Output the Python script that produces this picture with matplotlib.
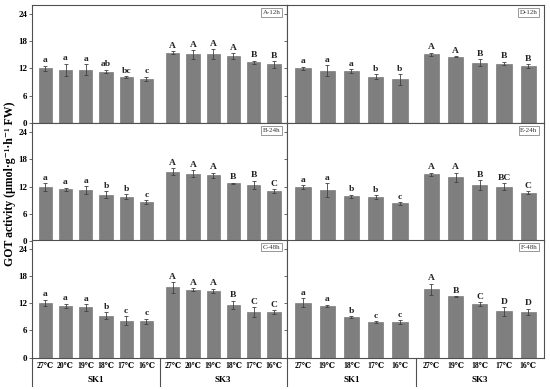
import matplotlib
matplotlib.use('Agg')
import matplotlib.pyplot as plt
import numpy as np

plt.rcParams['font.family'] = ['Liberation Serif', 'DejaVu Serif']

# Kategori suhu
suhu_kiri = ['27℃', '20℃', '19℃', '18℃', '17℃', '16℃']
suhu_kanan = ['27℃', '19℃', '18℃', '17℃', '16℃']
grup = ['SK1', 'SK3']

# Panel A-12h
A_sk1 = [12.0, 11.7, 11.7, 11.3, 10.1, 9.7]
A_sk1_err = [0.6, 1.4, 1.2, 0.4, 0.2, 0.5]
A_sk1_huruf = ['a', 'a', 'a', 'ab', 'bc', 'c']
A_sk3 = [15.5, 15.1, 15.1, 14.8, 13.4, 12.9]
A_sk3_err = [0.3, 1.0, 1.1, 0.6, 0.3, 0.7]
A_sk3_huruf = ['A', 'A', 'A', 'A', 'B', 'B']

# Panel B-24h
B_sk1 = [11.9, 11.4, 11.2, 10.2, 9.8, 8.6]
B_sk1_err = [0.8, 0.4, 0.9, 0.8, 0.5, 0.4]
B_sk1_huruf = ['a', 'a', 'a', 'b', 'b', 'c']
B_sk3 = [15.3, 14.9, 14.5, 12.7, 12.4, 11.1]
B_sk3_err = [0.8, 0.8, 0.6, 0.2, 0.9, 0.4]
B_sk3_huruf = ['A', 'A', 'A', 'B', 'B', 'C']

# Panel C-48h
C_sk1 = [12.1, 11.4, 11.1, 9.3, 8.1, 8.0]
C_sk1_err = [0.7, 0.5, 0.7, 0.7, 1.0, 0.6]
C_sk1_huruf = ['a', 'a', 'a', 'b', 'c', 'c']
C_sk3 = [15.5, 15.0, 14.7, 11.7, 10.1, 10.1]
C_sk3_err = [1.2, 0.3, 0.5, 0.9, 1.1, 0.4]
C_sk3_huruf = ['A', 'A', 'A', 'B', 'C', 'C']

# Panel D-12h
D_sk1 = [12.0, 11.5, 11.4, 10.2, 9.6]
D_sk1_err = [0.4, 1.2, 0.4, 0.5, 1.2]
D_sk1_huruf = ['a', 'a', 'a', 'b', 'b']
D_sk3 = [15.1, 14.6, 13.3, 13.1, 12.6]
D_sk3_err = [0.4, 0.1, 0.8, 0.4, 0.4]
D_sk3_huruf = ['A', 'A', 'B', 'B', 'B']

# Panel E-24h
E_sk1 = [11.9, 11.2, 9.9, 9.7, 8.3]
E_sk1_err = [0.4, 1.5, 0.3, 0.4, 0.3]
E_sk1_huruf = ['a', 'a', 'b', 'b', 'c']
E_sk3 = [14.7, 14.1, 12.3, 12.0, 10.7]
E_sk3_err = [0.4, 1.0, 1.1, 0.8, 0.3]
E_sk3_huruf = ['A', 'A', 'B', 'BC', 'C']

# Panel F-48h
F_sk1 = [12.1, 11.4, 8.9, 7.9, 7.8]
F_sk1_err = [1.0, 0.3, 0.2, 0.2, 0.4]
F_sk1_huruf = ['a', 'a', 'b', 'c', 'c']
F_sk3 = [15.1, 13.5, 11.8, 10.2, 10.1]
F_sk3_err = [1.2, 0.1, 0.4, 1.0, 0.7]
F_sk3_huruf = ['A', 'B', 'C', 'D', 'D']

panel = [
    ('A-12h', suhu_kiri, A_sk1, A_sk1_err, A_sk1_huruf, A_sk3, A_sk3_err, A_sk3_huruf),
    ('D-12h', suhu_kanan, D_sk1, D_sk1_err, D_sk1_huruf, D_sk3, D_sk3_err, D_sk3_huruf),
    ('B-24h', suhu_kiri, B_sk1, B_sk1_err, B_sk1_huruf, B_sk3, B_sk3_err, B_sk3_huruf),
    ('E-24h', suhu_kanan, E_sk1, E_sk1_err, E_sk1_huruf, E_sk3, E_sk3_err, E_sk3_huruf),
    ('C-48h', suhu_kiri, C_sk1, C_sk1_err, C_sk1_huruf, C_sk3, C_sk3_err, C_sk3_huruf),
    ('F-48h', suhu_kanan, F_sk1, F_sk1_err, F_sk1_huruf, F_sk3, F_sk3_err, F_sk3_huruf),
]

warna_bar = '#7f7f7f'
warna_garis = '#505050'

fig = plt.figure(figsize=(5.5, 3.9), dpi=100)

# posisi axes (fraksi figure)
kolom_x = [(32 / 550, 255 / 550), (287 / 550, 257 / 550)]
baris_y = [0.685, 0.382, 0.083]
tinggi = 0.302

for idx, (nama, kat, s1, e1, h1, s3, e3, h3) in enumerate(panel):
    baris, kolom = idx // 2, idx % 2
    x0, w = kolom_x[kolom]
    ax = fig.add_axes([x0, baris_y[baris], w, tinggi])
    n = len(kat)
    pos1 = np.arange(n)
    pos3 = np.arange(n) + n + 0.3
    pos = np.concatenate([pos1, pos3])
    nilai = list(s1) + list(s3)
    err = list(e1) + list(e3)
    huruf = list(h1) + list(h3)
    lebar = 0.66 if n == 6 else 0.63
    ax.bar(pos, nilai, width=lebar, color=warna_bar, edgecolor='#6a6a6a', linewidth=0.4,
           yerr=err, error_kw=dict(ecolor='#404040', elinewidth=0.6, capsize=1.2, capthick=0.6))
    for p, v, e, t in zip(pos, nilai, err, huruf):
        ax.text(p, v + e + 0.3, t, ha='center', va='bottom', fontsize=6.8,
                fontweight='bold', color='#222222')
    ax.set_xlim(-0.66, pos[-1] + 0.65)
    ax.set_ylim(0, 26)
    ax.set_yticks([0, 6, 12, 18, 24])
    for sp in ax.spines.values():
        sp.set_color(warna_garis)
        sp.set_linewidth(0.8)
    ax.tick_params(axis='y', direction='out', length=2, width=0.6, color=warna_garis,
                   labelsize=6.5, pad=1.5)
    if kolom == 0:
        ax.set_yticklabels(['0', '6', '12', '18', '24'], fontweight='bold')
    else:
        ax.set_yticklabels([])
    ax.text(0.975, 0.96, nama, transform=ax.transAxes, ha='right', va='top', fontsize=5,
            color='#333333',
            bbox=dict(boxstyle='square,pad=0.25', facecolor='white', edgecolor='#888888',
                      linewidth=0.6))
    if baris < 2:
        ax.set_xticks([])
    else:
        ax.set_xticks(pos)
        ax.set_xticklabels(list(kat) + list(kat), fontsize=5.6, fontweight='bold')
        ax.tick_params(axis='x', length=0, pad=3.5)
        # garis pemisah grup dan label grup
        trans = ax.get_xaxis_transform()
        tengah = (pos1[-1] + pos3[0]) / 2
        ax.plot([tengah, tengah], [0, -0.24], transform=trans, color=warna_garis,
                linewidth=0.8, clip_on=False)
        ax.plot([-0.66, -0.66], [0, -0.24], transform=trans, color=warna_garis,
                linewidth=0.8, clip_on=False)
        ax.text(pos1.mean(), -0.19, grup[0], transform=trans, ha='center', va='center',
                fontsize=6.5, fontweight='bold')
        ax.text(pos3.mean(), -0.19, grup[1], transform=trans, ha='center', va='center',
                fontsize=6.5, fontweight='bold')

fig.text(10 / 550, 0.53, 'GOT activity (μmol·g⁻¹·h⁻¹ FW)', rotation=90, ha='center',
         va='center', fontsize=8.5, fontweight='bold')

fig.savefig('out.png', dpi=100)
